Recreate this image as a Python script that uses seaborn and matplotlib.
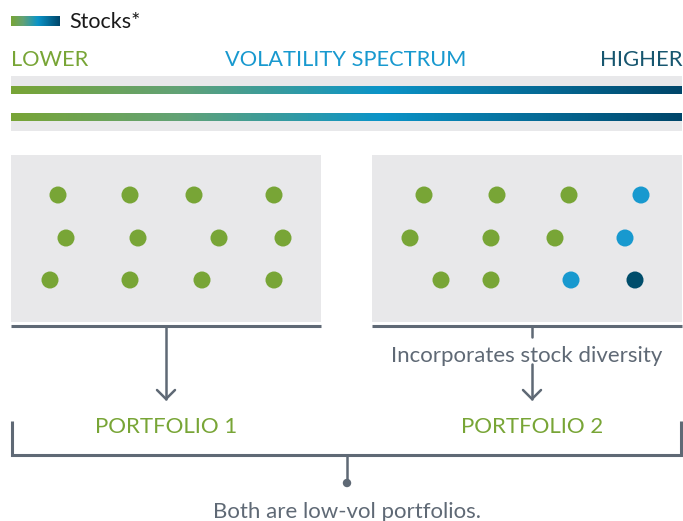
import numpy as np
import pandas as pd
import matplotlib
matplotlib.use("Agg")
import matplotlib.pyplot as plt
import seaborn as sns
from matplotlib.colors import LinearSegmentedColormap
from matplotlib.patches import Rectangle, Circle

sns.set_theme(style="white")
plt.rcParams['font.family'] = ['Lato', 'DejaVu Sans']

# ---- data ----
legend_label = "Stocks*"
spectrum_labels = ["LOWER", "VOLATILITY SPECTRUM", "HIGHER"]
portfolio_labels = ["PORTFOLIO 1", "PORTFOLIO 2"]
note_label = "Incorporates stock diversity"
footer_label = "Both are low-vol portfolios."

p1_x = [58, 130, 194, 274, 66, 138, 219, 283, 50, 130, 202, 274]
p1_y = [195, 195, 195, 195, 238, 238, 238, 238, 280, 280, 280, 280]
p1_vol = ["low"] * 12

p2_x = [424, 497, 569, 641, 410, 491, 555, 625, 441, 491, 571, 635]
p2_y = [195, 195, 195, 195, 238, 238, 238, 238, 280, 280, 280, 280]
p2_vol = ["low", "low", "low", "mid", "low", "low", "low", "mid", "low", "low", "mid", "high"]

GREEN = "#78a536"
BLUE = "#1899cf"
DARK = "#004d6b"
HIGHER_C = "#17566f"
GRAY_BG = "#e8e8ea"
LINE = "#5f6975"
TEXT_GRAY = "#5f6975"

palette = {"low": GREEN, "mid": BLUE, "high": DARK}
grad = LinearSegmentedColormap.from_list(
    "vol", [(0, GREEN), (0.25, "#62a276"), (0.55, "#0b94c8"), (1, "#00466a")])

df = pd.DataFrame({
    "x": p1_x + p2_x,
    "y": p1_y + p2_y,
    "vol": p1_vol + p2_vol,
})

fig = plt.figure(figsize=(6.83, 5.21), dpi=100)
ax = fig.add_axes([0, 0, 1, 1])
ax.set_xlim(0, 683)
ax.set_ylim(521, 0)
ax.axis("off")

g = np.linspace(0, 1, 256).reshape(1, -1)

# legend swatch
ax.imshow(g, cmap=grad, aspect="auto", extent=(11, 60, 26, 16), zorder=2)
ax.text(69, 28, legend_label, fontsize=15.5, color="#1a1a1a", va="baseline", ha="left")

# spectrum labels
ax.text(11, 66.5, spectrum_labels[0], fontsize=15.7, color=GREEN, va="baseline", ha="left")
ax.text(346, 66.5, spectrum_labels[1], fontsize=15.7, color=BLUE, va="baseline", ha="center")
ax.text(682, 66.5, spectrum_labels[2], fontsize=15.9, color=HIGHER_C, va="baseline", ha="right")

# spectrum band
ax.add_patch(Rectangle((11, 76), 671, 10, color=GRAY_BG, lw=0, zorder=1))
ax.add_patch(Rectangle((11, 121), 671, 10, color=GRAY_BG, lw=0, zorder=1))
ax.imshow(g, cmap=grad, aspect="auto", extent=(11, 682, 94, 86), zorder=2)
ax.imshow(g, cmap=grad, aspect="auto", extent=(11, 682, 121, 113), zorder=2)

# panels
ax.add_patch(Rectangle((11, 155), 310, 167, color=GRAY_BG, lw=0, zorder=1))
ax.add_patch(Rectangle((372, 155), 310, 167, color=GRAY_BG, lw=0, zorder=1))
ax.plot([11, 321], [326, 326], color=LINE, lw=2.2, solid_capstyle="butt")
ax.plot([372, 682], [326, 326], color=LINE, lw=2.2, solid_capstyle="butt")

sns.scatterplot(data=df, x="x", y="y", hue="vol", palette=palette, s=150,
                linewidth=0, legend=False, ax=ax, zorder=3)
ax.set_xlim(0, 683)
ax.set_ylim(521, 0)
ax.axis("off")

# left arrow
ax.plot([166, 166], [326, 399], color=LINE, lw=1.8)
ax.plot([157, 166, 175], [390, 399, 390], color=LINE, lw=1.8, solid_joinstyle="miter")

# right tick, note, arrow
ax.plot([532, 532], [326, 337], color=LINE, lw=1.8)
ax.text(526.5, 361.5, note_label, fontsize=16, color=TEXT_GRAY, ha="center", va="baseline")
ax.plot([532, 532], [364, 399], color=LINE, lw=1.8)
ax.plot([523, 532, 541], [390, 399, 390], color=LINE, lw=1.8, solid_joinstyle="miter")

# portfolio labels
ax.text(166, 433, portfolio_labels[0], fontsize=16, color=GREEN, ha="center", va="baseline")
ax.text(532, 433, portfolio_labels[1], fontsize=16, color=GREEN, ha="center", va="baseline")

# bracket
ax.plot([12, 12, 681, 681], [421, 455, 455, 421], color=LINE, lw=2.2,
        solid_joinstyle="miter", solid_capstyle="butt")
ax.plot([347, 347], [455, 482], color=LINE, lw=1.8)
ax.add_patch(Circle((347, 483), 3.5, color=LINE, zorder=3))

ax.text(347, 518, footer_label, fontsize=16, color=TEXT_GRAY, ha="center", va="baseline")

fig.savefig("out.png", dpi=100)
